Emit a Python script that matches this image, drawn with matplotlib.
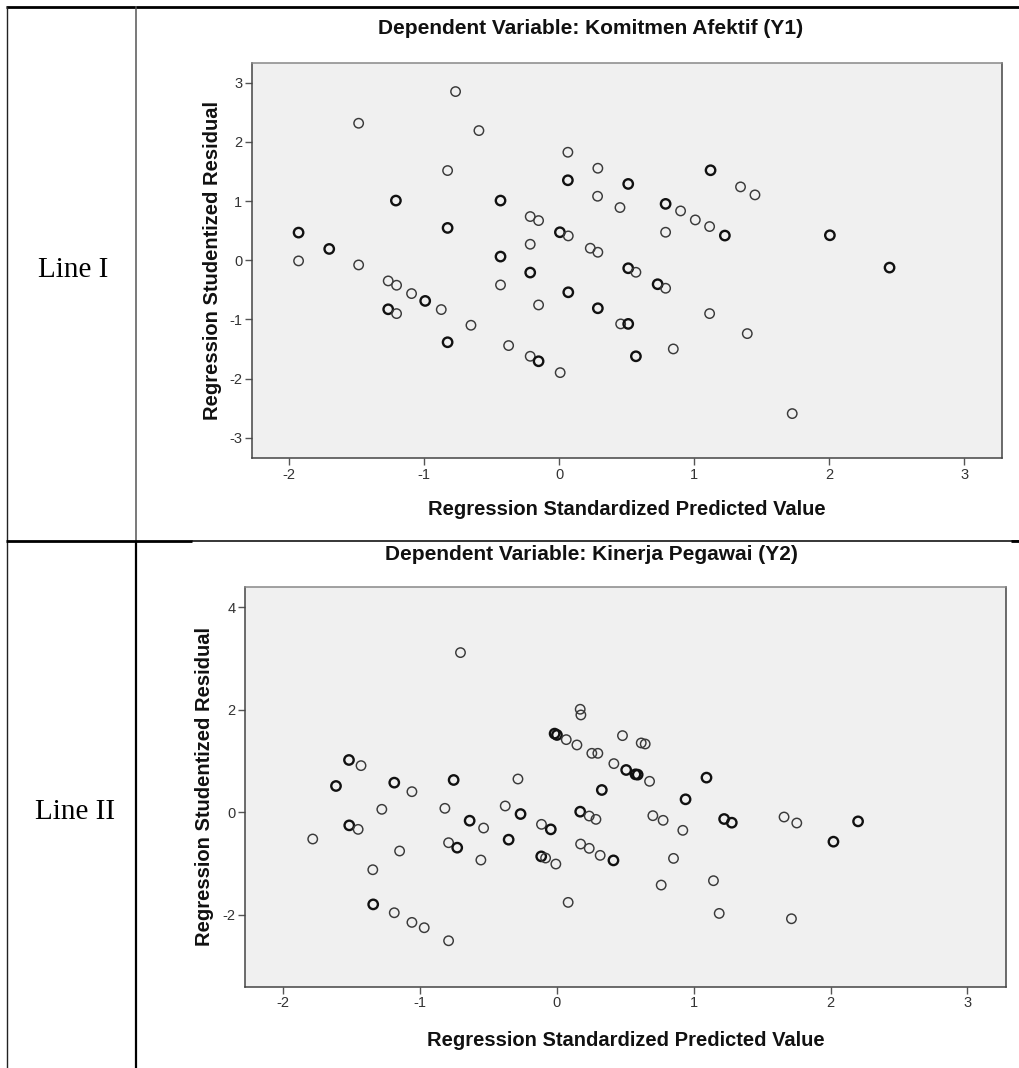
import matplotlib
matplotlib.use("Agg")
import matplotlib.pyplot as plt
from matplotlib.lines import Line2D

plt.rcParams["axes.unicode_minus"] = False

# ---------------- data ----------------
row_labels = ["Line I", "Line II"]
titles = ["Dependent Variable: Komitmen Afektif (Y1)",
          "Dependent Variable: Kinerja Pegawai (Y2)"]
x_label = "Regression Standardized Predicted Value"
y_label = "Regression Studentized Residual"

top_x = [-1.931, -1.931, -1.704, -1.486, -1.486, -0.768, -0.595, -0.827, -1.210, -0.827,
         -0.435, -0.435, -0.435, -1.267, -1.205, -1.094, -0.993, -1.267, -1.205, -0.874,
         -0.654, -0.827, -0.375, -0.215, -0.153, -0.215, -0.215, -0.153, -0.215, -0.153,
         0.007, 0.005, 0.067, 0.064, 0.064, 0.067, 0.286, 0.284, 0.230, 0.286,
         0.286, 0.511, 0.450, 0.788, 0.899, 1.008, 1.114, 1.227, 0.788, 1.121,
         1.343, 1.450, 0.511, 0.568, 0.729, 0.788, 1.114, 0.455, 0.511, 1.393,
         0.845, 0.568, 2.005, 2.447, 1.726]
top_y = [0.467, -0.011, 0.191, 2.314, -0.079, 2.849, 2.190, 1.515, 1.008, 0.546,
         1.008, 0.062, -0.417, -0.349, -0.422, -0.563, -0.687, -0.828, -0.901, -0.833,
         -1.098, -1.385, -1.441, 0.738, 0.670, 0.270, -0.208, -0.755, -1.622, -1.706,
         -1.898, 0.473, 0.411, 1.824, 1.351, -0.541, 1.554, 1.081, 0.203, 0.135,
         -0.811, 1.289, 0.890, 0.952, 0.833, 0.681, 0.569, 0.417, 0.473, 1.520,
         1.239, 1.104, -0.135, -0.203, -0.405, -0.473, -0.901, -1.075, -1.075, -1.239,
         -1.498, -1.622, 0.422, -0.124, -2.590]
top_n = [2, 1, 2, 1, 1, 1, 1, 1, 2, 2,
         2, 2, 1, 1, 1, 1, 2, 2, 1, 1,
         1, 2, 1, 1, 1, 1, 2, 1, 1, 2,
         1, 2, 1, 1, 2, 2, 1, 1, 1, 1,
         2, 2, 1, 2, 1, 1, 1, 2, 1, 2,
         1, 1, 2, 1, 2, 1, 1, 1, 2, 1,
         1, 2, 2, 2, 1]

bot_x = [-1.785, -1.615, -1.520, -1.432, -1.518, -1.453, -1.280, -1.346, -1.343, -1.189,
         -1.060, -1.150, -1.189, -1.060, -0.970, -0.792, -0.705, -0.755, -0.819, -0.792,
         -0.729, -0.638, -0.536, -0.556, -0.378, -0.285, -0.266, -0.353, -0.113, -0.045,
         -0.115, -0.083, -0.008, 0.082, -0.017, 0.000, 0.068, 0.146, 0.170, 0.175,
         0.255, 0.299, 0.170, 0.236, 0.285, 0.173, 0.236, 0.316, 0.328, 0.413,
         0.479, 0.416, 0.506, 0.574, 0.590, 0.677, 0.616, 0.645, 0.701, 0.776,
         0.920, 0.940, 1.093, 1.222, 1.278, 0.852, 0.762, 1.144, 1.186, 1.660,
         1.753, 1.714, 2.021, 2.201]
bot_y = [-0.520, 0.514, 1.021, 0.911, -0.254, -0.332, 0.059, -1.119, -1.795, 0.579,
         0.403, -0.754, -1.958, -2.146, -2.250, -2.504, 3.115, 0.631, 0.078, -0.592,
         -0.689, -0.163, -0.306, -0.930, 0.124, 0.650, -0.033, -0.533, -0.234, -0.332,
         -0.859, -0.891, -1.008, -1.756, 1.535, 1.509, 1.418, 1.314, 2.010, 1.899,
         1.151, 1.151, 0.013, -0.072, -0.137, -0.618, -0.702, -0.839, 0.436, -0.937,
         1.496, 0.950, 0.826, 0.741, 0.735, 0.605, 1.353, 1.333, -0.065, -0.156,
         -0.351, 0.254, 0.677, -0.130, -0.202, -0.898, -1.418, -1.333, -1.971, -0.091,
         -0.208, -2.075, -0.572, -0.176]
bot_n = [1, 2, 2, 1, 2, 1, 1, 1, 2, 2,
         1, 1, 1, 1, 1, 1, 1, 2, 1, 1,
         2, 2, 1, 1, 1, 1, 2, 2, 1, 2,
         2, 1, 1, 1, 2, 2, 1, 1, 1, 1,
         1, 1, 2, 1, 1, 1, 1, 1, 2, 2,
         1, 1, 2, 2, 2, 1, 1, 1, 1, 1,
         1, 2, 2, 2, 2, 1, 1, 1, 1, 1,
         1, 1, 2, 2]

top_yticks = [-3, -2, -1, 0, 1, 2, 3]
bot_yticks = [-2, 0, 2, 4]
xticks = [-2, -1, 0, 1, 2, 3]

# ---------------- figure ----------------
W, H = 1020, 1068
fig = plt.figure(figsize=(W / 100, H / 100), dpi=100)
fig.patch.set_facecolor("white")
SANS = ["Liberation Sans", "DejaVu Sans"]
SERIF = ["Liberation Serif", "DejaVu Serif"]


def fx(px):
    return px / W


def fy(py):
    return 1 - py / H


def make_axes(l, t, r, b, xs, ys, ns, xlim, ylim, yticks):
    ax = fig.add_axes([fx(l), fy(b), fx(r - l), (b - t) / H])
    ax.set_facecolor("#f0f0f0")
    lws = [1.7 if n > 1 else 1.05 for n in ns]
    ecs = ["#111111" if n > 1 else "#3a3a3a" for n in ns]
    ax.scatter(xs, ys, s=46, facecolors="none", edgecolors=ecs, linewidths=lws, zorder=3)
    ax.set_xlim(*xlim)
    ax.set_ylim(*ylim)
    ax.set_xticks(xticks)
    ax.set_yticks(yticks)
    ax.tick_params(direction="out", length=5, width=1.0, color="#555555",
                   labelsize=10.5, labelcolor="#333333", pad=2)
    for lab in ax.get_xticklabels() + ax.get_yticklabels():
        lab.set_family(SANS)
    for sp in ax.spines.values():
        sp.set_color("#444444")
        sp.set_linewidth(1.1)
    ax.spines["top"].set_color("#888888")
    return ax


make_axes(252, 62.5, 1002, 458, top_x, top_y, top_n,
          (-2.276, 3.28), (-3.34, 3.34), top_yticks)
make_axes(245, 586.7, 1005.7, 986.7, bot_x, bot_y, bot_n,
          (-2.28, 3.28), (-3.40, 4.40), bot_yticks)

# titles and axis labels
tkw = dict(family=SANS, fontweight="bold", fontsize=15, color="#111111")
kw = dict(family=SANS, fontweight="bold", fontsize=14.5, color="#111111")
fig.text(fx(591), fy(28), titles[0], ha="center", va="center", **tkw)
fig.text(fx(591), fy(555), titles[1], ha="center", va="center", **tkw)
fig.text(fx(627), fy(510), x_label, ha="center", va="center", **kw)
fig.text(fx(626), fy(1040), x_label, ha="center", va="center", **kw)
fig.text(fx(213), fy(260), y_label, ha="center", va="center", rotation=90, **kw)
fig.text(fx(205), fy(786), y_label, ha="center", va="center", rotation=90, **kw)

# row labels
fig.text(fx(73), fy(270), row_labels[0], ha="center", va="center",
         family=SERIF, fontsize=21, color="black")
fig.text(fx(75), fy(812), row_labels[1], ha="center", va="center",
         family=SERIF, fontsize=21, color="black")


# table lines
def hline(y, x0, x1, lw, c="black"):
    fig.add_artist(Line2D([fx(x0), fx(x1)], [fy(y), fy(y)], lw=lw, color=c,
                          transform=fig.transFigure, solid_capstyle="butt"))


def vline(x, y0, y1, lw, c="black"):
    fig.add_artist(Line2D([fx(x), fx(x)], [fy(y0), fy(y1)], lw=lw, color=c,
                          transform=fig.transFigure, solid_capstyle="butt"))


hline(6.7, 6, 1020, 2.0)
vline(7, 6, 1068, 1.0, "#222222")
vline(135.7, 6, 541, 1.1, "#555555")
vline(135.7, 541, 1068, 1.6)
hline(541, 6, 192, 2.0)
hline(540.5, 192, 1020, 1.1)
hline(541, 1011, 1020, 2.0)

fig.savefig("out.png", dpi=100, facecolor="white")
